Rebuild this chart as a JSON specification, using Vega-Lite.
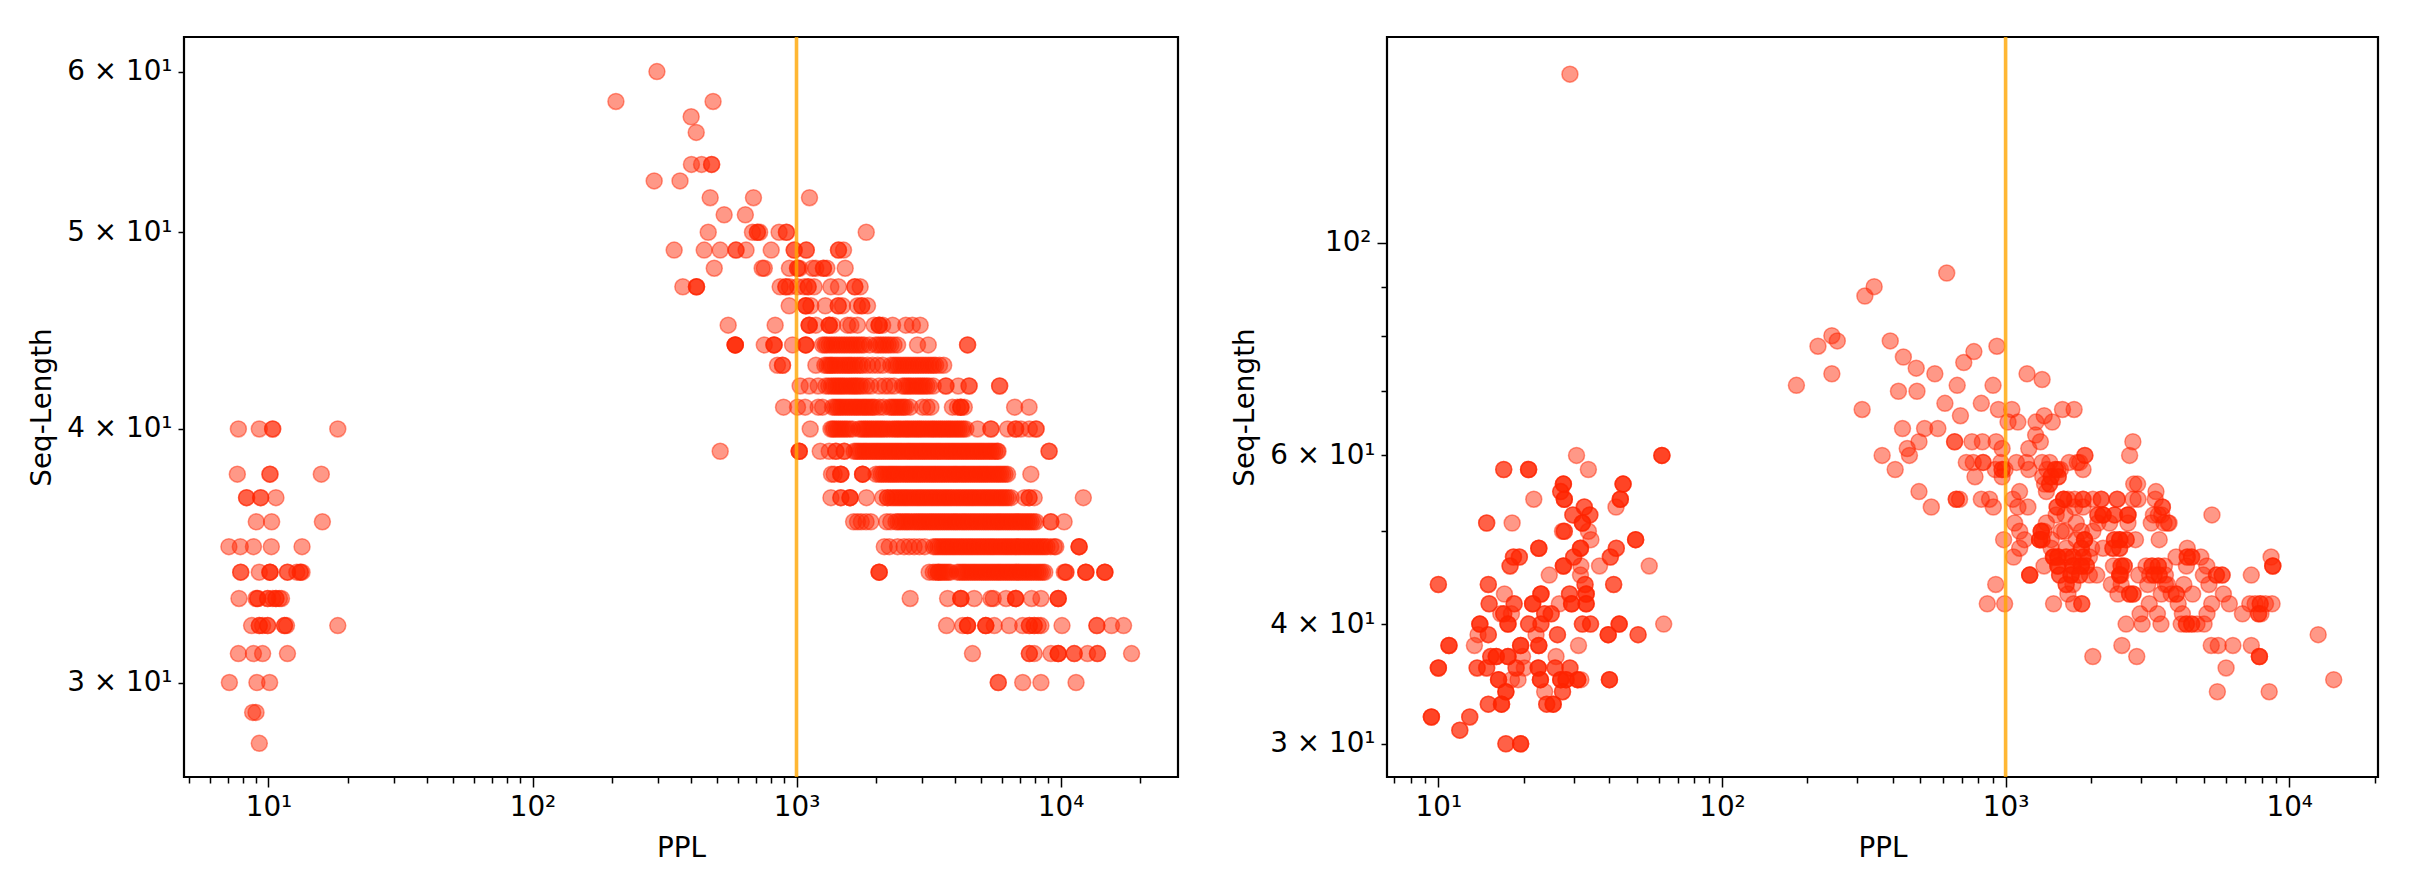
{
"$schema":"https://vega.github.io/schema/vega-lite/v6.json",
"padding":{"left":27,"top":34,"right":0,"bottom":0},
"background":"white",
"spacing":50,
"config":{"view":{"stroke":"black","strokeWidth":2.2},"font":"DejaVu Sans",
"axis":{"grid":false,"domain":false,"labelFont":"DejaVu Sans","titleFont":"DejaVu Sans","labelFontSize":27.8,"titleFontSize":27.8,"titleFontWeight":"normal","labelColor":"black","titleColor":"black","tickColor":"black","tickWidth":1.5,"labelOverlap":false,"labelFlush":false,"labelBound":false}},
"datasets":{
"left":[
{"ppl":7.69,"len":40},{"ppl":9.23,"len":40},{"ppl":10.37,"len":40},{"ppl":10.37,"len":40},{"ppl":18.3,"len":40},
{"ppl":7.62,"len":38},{"ppl":10.13,"len":38},{"ppl":10.13,"len":38},{"ppl":15.85,"len":38},
{"ppl":8.26,"len":37},{"ppl":8.26,"len":37},{"ppl":9.34,"len":37},{"ppl":9.34,"len":37},{"ppl":10.67,"len":37},
{"ppl":8.99,"len":36},{"ppl":10.28,"len":36},{"ppl":16.0,"len":36},
{"ppl":7.08,"len":35},{"ppl":7.82,"len":35},{"ppl":8.77,"len":35},{"ppl":10.25,"len":35},{"ppl":13.4,"len":35},
{"ppl":7.85,"len":34},{"ppl":7.85,"len":34},{"ppl":9.23,"len":34},{"ppl":10.13,"len":34},{"ppl":10.13,"len":34},{"ppl":10.13,"len":34},{"ppl":11.8,"len":34},{"ppl":11.8,"len":34},{"ppl":12.8,"len":34},{"ppl":13.2,"len":34},{"ppl":13.2,"len":34},{"ppl":13.4,"len":34},
{"ppl":7.73,"len":33},{"ppl":8.97,"len":33},{"ppl":9.1,"len":33},{"ppl":9.1,"len":33},{"ppl":9.93,"len":33},{"ppl":9.93,"len":33},{"ppl":10.37,"len":33},{"ppl":10.67,"len":33},{"ppl":10.67,"len":33},{"ppl":11.0,"len":33},{"ppl":11.2,"len":33},
{"ppl":8.63,"len":32},{"ppl":9.23,"len":32},{"ppl":9.23,"len":32},{"ppl":9.5,"len":32},{"ppl":9.93,"len":32},{"ppl":9.93,"len":32},{"ppl":11.5,"len":32},{"ppl":11.5,"len":32},{"ppl":11.7,"len":32},{"ppl":18.3,"len":32},
{"ppl":7.69,"len":31},{"ppl":8.77,"len":31},{"ppl":9.5,"len":31},{"ppl":11.8,"len":31},
{"ppl":7.11,"len":30},{"ppl":9.04,"len":30},{"ppl":10.1,"len":30},
{"ppl":8.71,"len":29},{"ppl":8.97,"len":29},{"ppl":9.23,"len":28},
{"ppl":296,"len":60},{"ppl":207,"len":58},{"ppl":483,"len":58},{"ppl":399,"len":57},{"ppl":417,"len":56},
{"ppl":400,"len":54},{"ppl":437,"len":54},{"ppl":477,"len":54},{"ppl":477,"len":54},
{"ppl":289,"len":53},{"ppl":362,"len":53},{"ppl":471,"len":52},{"ppl":687,"len":52},{"ppl":1120,"len":52},{"ppl":532,"len":51},{"ppl":640,"len":51},
{"ppl":463,"len":50},{"ppl":681,"len":50},{"ppl":711,"len":50},{"ppl":711,"len":50},{"ppl":725,"len":50},{"ppl":859,"len":50},{"ppl":916,"len":50},{"ppl":916,"len":50},{"ppl":1837,"len":50},
{"ppl":344,"len":49},{"ppl":447,"len":49},{"ppl":514,"len":49},{"ppl":590,"len":49},{"ppl":590,"len":49},{"ppl":644,"len":49},{"ppl":802,"len":49},{"ppl":980,"len":49},{"ppl":980,"len":49},{"ppl":1089,"len":49},{"ppl":1089,"len":49},{"ppl":1442,"len":49},{"ppl":1442,"len":49},{"ppl":1507,"len":49},
{"ppl":488,"len":48},{"ppl":741,"len":48},{"ppl":755,"len":48},{"ppl":940,"len":48},{"ppl":1009,"len":48},{"ppl":1009,"len":48},{"ppl":1026,"len":48},{"ppl":1150,"len":48},{"ppl":1183,"len":48},{"ppl":1265,"len":48},{"ppl":1265,"len":48},{"ppl":1303,"len":48},{"ppl":1529,"len":48},
{"ppl":371,"len":47},{"ppl":418,"len":47},{"ppl":418,"len":47},{"ppl":418,"len":47},{"ppl":867,"len":47},{"ppl":911,"len":47},{"ppl":911,"len":47},{"ppl":940,"len":47},{"ppl":1009,"len":47},{"ppl":1069,"len":47},{"ppl":1107,"len":47},{"ppl":1107,"len":47},{"ppl":1166,"len":47},{"ppl":1349,"len":47},{"ppl":1442,"len":47},{"ppl":1663,"len":47},{"ppl":1663,"len":47},{"ppl":1742,"len":47},
{"ppl":938,"len":46},{"ppl":1084,"len":46},{"ppl":1084,"len":46},{"ppl":1084,"len":46},{"ppl":1133,"len":46},{"ppl":1285,"len":46},{"ppl":1439,"len":46},{"ppl":1439,"len":46},{"ppl":1493,"len":46},{"ppl":1702,"len":46},{"ppl":1767,"len":46},{"ppl":1767,"len":46},{"ppl":1858,"len":46},
{"ppl":551,"len":45},{"ppl":830,"len":45},{"ppl":1117,"len":45},{"ppl":1117,"len":45},{"ppl":1117,"len":45},{"ppl":1183,"len":45},{"ppl":1330,"len":45},{"ppl":1330,"len":45},{"ppl":1330,"len":45},{"ppl":1370,"len":45},{"ppl":1560,"len":45},{"ppl":1607,"len":45},{"ppl":1702,"len":45},{"ppl":1968,"len":45},{"ppl":2056,"len":45},{"ppl":2056,"len":45},{"ppl":2056,"len":45},{"ppl":2120,"len":45},{"ppl":2312,"len":45},{"ppl":2594,"len":45},{"ppl":2748,"len":45},{"ppl":2940,"len":45},
{"ppl":586,"len":44},{"ppl":586,"len":44},{"ppl":586,"len":44},{"ppl":586,"len":44},{"ppl":755,"len":44},{"ppl":822,"len":44},{"ppl":822,"len":44},{"ppl":822,"len":44},{"ppl":966,"len":44},{"ppl":1084,"len":44},{"ppl":1084,"len":44},{"ppl":1084,"len":44},{"ppl":1254,"len":44},{"ppl":1280,"len":44},{"ppl":1330,"len":44},{"ppl":1390,"len":44},{"ppl":1452,"len":44},{"ppl":1516,"len":44},{"ppl":1585,"len":44},{"ppl":1652,"len":44},{"ppl":1726,"len":44},{"ppl":1803,"len":44},{"ppl":1890,"len":44},{"ppl":1997,"len":44},{"ppl":2086,"len":44},{"ppl":2178,"len":44},{"ppl":2275,"len":44},{"ppl":2415,"len":44},{"ppl":2873,"len":44},{"ppl":3155,"len":44},{"ppl":4446,"len":44},{"ppl":4446,"len":44},
{"ppl":847,"len":43},{"ppl":885,"len":43},{"ppl":885,"len":43},{"ppl":1184,"len":43},{"ppl":1280,"len":43},{"ppl":1330,"len":43},{"ppl":1369,"len":43},{"ppl":1430,"len":43},{"ppl":1495,"len":43},{"ppl":1560,"len":43},{"ppl":1620,"len":43},{"ppl":1700,"len":43},{"ppl":1780,"len":43},{"ppl":1857,"len":43},{"ppl":1940,"len":43},{"ppl":2030,"len":43},{"ppl":2120,"len":43},{"ppl":2275,"len":43},{"ppl":2380,"len":43},{"ppl":2483,"len":43},{"ppl":2595,"len":43},{"ppl":2710,"len":43},{"ppl":2830,"len":43},{"ppl":2957,"len":43},{"ppl":3090,"len":43},{"ppl":3230,"len":43},{"ppl":3365,"len":43},{"ppl":3480,"len":43},{"ppl":3610,"len":43},
{"ppl":1032,"len":42},{"ppl":1117,"len":42},{"ppl":1208,"len":42},{"ppl":1292,"len":42},{"ppl":1357,"len":42},{"ppl":1410,"len":42},{"ppl":1463,"len":42},{"ppl":1516,"len":42},{"ppl":1585,"len":42},{"ppl":1645,"len":42},{"ppl":1702,"len":42},{"ppl":1780,"len":42},{"ppl":1845,"len":42},{"ppl":1912,"len":42},{"ppl":2056,"len":42},{"ppl":2160,"len":42},{"ppl":2245,"len":42},{"ppl":2343,"len":42},{"ppl":2519,"len":42},{"ppl":2620,"len":42},{"ppl":2712,"len":42},{"ppl":2830,"len":42},{"ppl":2940,"len":42},{"ppl":3050,"len":42},{"ppl":3180,"len":42},{"ppl":3295,"len":42},{"ppl":3680,"len":42},{"ppl":3680,"len":42},{"ppl":4100,"len":42},{"ppl":4505,"len":42},{"ppl":4505,"len":42},{"ppl":5880,"len":42},{"ppl":5880,"len":42},
{"ppl":893,"len":41},{"ppl":1009,"len":41},{"ppl":1078,"len":41},{"ppl":1208,"len":41},{"ppl":1255,"len":41},{"ppl":1369,"len":41},{"ppl":1421,"len":41},{"ppl":1472,"len":41},{"ppl":1530,"len":41},{"ppl":1590,"len":41},{"ppl":1653,"len":41},{"ppl":1712,"len":41},{"ppl":1780,"len":41},{"ppl":1840,"len":41},{"ppl":1912,"len":41},{"ppl":1980,"len":41},{"ppl":2056,"len":41},{"ppl":2135,"len":41},{"ppl":2245,"len":41},{"ppl":2330,"len":41},{"ppl":2415,"len":41},{"ppl":2505,"len":41},{"ppl":2595,"len":41},{"ppl":2695,"len":41},{"ppl":3000,"len":41},{"ppl":3120,"len":41},{"ppl":3230,"len":41},{"ppl":3895,"len":41},{"ppl":4070,"len":41},{"ppl":4192,"len":41},{"ppl":4192,"len":41},{"ppl":4192,"len":41},{"ppl":4320,"len":41},{"ppl":6700,"len":41},{"ppl":7600,"len":41},
{"ppl":1127,"len":40},{"ppl":1350,"len":40},{"ppl":1389,"len":40},{"ppl":1440,"len":40},{"ppl":1495,"len":40},{"ppl":1553,"len":40},{"ppl":1630,"len":40},{"ppl":1726,"len":40},{"ppl":1795,"len":40},{"ppl":1857,"len":40},{"ppl":1925,"len":40},{"ppl":2000,"len":40},{"ppl":2075,"len":40},{"ppl":2150,"len":40},{"ppl":2250,"len":40},{"ppl":2310,"len":40},{"ppl":2400,"len":40},{"ppl":2483,"len":40},{"ppl":2585,"len":40},{"ppl":2670,"len":40},{"ppl":2770,"len":40},{"ppl":2873,"len":40},{"ppl":2970,"len":40},{"ppl":3090,"len":40},{"ppl":3215,"len":40},{"ppl":3322,"len":40},{"ppl":3450,"len":40},{"ppl":3570,"len":40},{"ppl":3710,"len":40},{"ppl":3840,"len":40},{"ppl":3985,"len":40},{"ppl":4130,"len":40},{"ppl":4290,"len":40},{"ppl":4380,"len":40},{"ppl":4850,"len":40},{"ppl":5450,"len":40},{"ppl":5450,"len":40},{"ppl":6300,"len":40},{"ppl":6760,"len":40},{"ppl":6760,"len":40},{"ppl":7080,"len":40},{"ppl":7620,"len":40},{"ppl":8080,"len":40},{"ppl":8080,"len":40},
{"ppl":514,"len":39},{"ppl":1024,"len":39},{"ppl":1024,"len":39},{"ppl":1024,"len":39},{"ppl":1230,"len":39},{"ppl":1330,"len":39},{"ppl":1410,"len":39},{"ppl":1410,"len":39},{"ppl":1516,"len":39},{"ppl":1516,"len":39},{"ppl":1653,"len":39},{"ppl":1717,"len":39},{"ppl":1785,"len":39},{"ppl":1850,"len":39},{"ppl":1925,"len":39},{"ppl":2000,"len":39},{"ppl":2075,"len":39},{"ppl":2155,"len":39},{"ppl":2240,"len":39},{"ppl":2325,"len":39},{"ppl":2415,"len":39},{"ppl":2505,"len":39},{"ppl":2610,"len":39},{"ppl":2705,"len":39},{"ppl":2810,"len":39},{"ppl":2920,"len":39},{"ppl":3030,"len":39},{"ppl":3145,"len":39},{"ppl":3265,"len":39},{"ppl":3395,"len":39},{"ppl":3520,"len":39},{"ppl":3665,"len":39},{"ppl":3805,"len":39},{"ppl":3950,"len":39},{"ppl":4100,"len":39},{"ppl":4260,"len":39},{"ppl":4420,"len":39},{"ppl":4590,"len":39},{"ppl":4770,"len":39},{"ppl":4950,"len":39},{"ppl":5135,"len":39},{"ppl":5340,"len":39},{"ppl":5540,"len":39},{"ppl":5760,"len":39},{"ppl":5800,"len":39},{"ppl":9050,"len":39},{"ppl":9050,"len":39},
{"ppl":1357,"len":38},{"ppl":1389,"len":38},{"ppl":1472,"len":38},{"ppl":1472,"len":38},{"ppl":1472,"len":38},{"ppl":1780,"len":38},{"ppl":1780,"len":38},{"ppl":1780,"len":38},{"ppl":2000,"len":38},{"ppl":2056,"len":38},{"ppl":2135,"len":38},{"ppl":2225,"len":38},{"ppl":2305,"len":38},{"ppl":2390,"len":38},{"ppl":2483,"len":38},{"ppl":2585,"len":38},{"ppl":2680,"len":38},{"ppl":2785,"len":38},{"ppl":2890,"len":38},{"ppl":3000,"len":38},{"ppl":3120,"len":38},{"ppl":3240,"len":38},{"ppl":3360,"len":38},{"ppl":3490,"len":38},{"ppl":3625,"len":38},{"ppl":3770,"len":38},{"ppl":3920,"len":38},{"ppl":4060,"len":38},{"ppl":4225,"len":38},{"ppl":4380,"len":38},{"ppl":4555,"len":38},{"ppl":4730,"len":38},{"ppl":4915,"len":38},{"ppl":5100,"len":38},{"ppl":5290,"len":38},{"ppl":5500,"len":38},{"ppl":5720,"len":38},{"ppl":5935,"len":38},{"ppl":6170,"len":38},{"ppl":6300,"len":38},{"ppl":7720,"len":38},
{"ppl":1350,"len":37},{"ppl":1472,"len":37},{"ppl":1472,"len":37},{"ppl":1595,"len":37},{"ppl":1595,"len":37},{"ppl":1595,"len":37},{"ppl":1840,"len":37},{"ppl":2120,"len":37},{"ppl":2211,"len":37},{"ppl":2211,"len":37},{"ppl":2275,"len":37},{"ppl":2365,"len":37},{"ppl":2455,"len":37},{"ppl":2550,"len":37},{"ppl":2645,"len":37},{"ppl":2750,"len":37},{"ppl":2860,"len":37},{"ppl":2965,"len":37},{"ppl":3080,"len":37},{"ppl":3200,"len":37},{"ppl":3322,"len":37},{"ppl":3450,"len":37},{"ppl":3585,"len":37},{"ppl":3720,"len":37},{"ppl":3860,"len":37},{"ppl":4020,"len":37},{"ppl":4175,"len":37},{"ppl":4340,"len":37},{"ppl":4505,"len":37},{"ppl":4675,"len":37},{"ppl":4860,"len":37},{"ppl":5050,"len":37},{"ppl":5245,"len":37},{"ppl":5445,"len":37},{"ppl":5655,"len":37},{"ppl":5880,"len":37},{"ppl":6100,"len":37},{"ppl":6340,"len":37},{"ppl":6500,"len":37},{"ppl":7300,"len":37},{"ppl":7600,"len":37},{"ppl":7600,"len":37},{"ppl":7950,"len":37},{"ppl":12200,"len":37},
{"ppl":1645,"len":36},{"ppl":1702,"len":36},{"ppl":1760,"len":36},{"ppl":1835,"len":36},{"ppl":1912,"len":36},{"ppl":2195,"len":36},{"ppl":2275,"len":36},{"ppl":2380,"len":36},{"ppl":2470,"len":36},{"ppl":2575,"len":36},{"ppl":2670,"len":36},{"ppl":2790,"len":36},{"ppl":2900,"len":36},{"ppl":3010,"len":36},{"ppl":3130,"len":36},{"ppl":3250,"len":36},{"ppl":3375,"len":36},{"ppl":3505,"len":36},{"ppl":3640,"len":36},{"ppl":3780,"len":36},{"ppl":3930,"len":36},{"ppl":4070,"len":36},{"ppl":4235,"len":36},{"ppl":4390,"len":36},{"ppl":4565,"len":36},{"ppl":4740,"len":36},{"ppl":4925,"len":36},{"ppl":5120,"len":36},{"ppl":5315,"len":36},{"ppl":5525,"len":36},{"ppl":5740,"len":36},{"ppl":5945,"len":36},{"ppl":6180,"len":36},{"ppl":6410,"len":36},{"ppl":6660,"len":36},{"ppl":6920,"len":36},{"ppl":7190,"len":36},{"ppl":7470,"len":36},{"ppl":7750,"len":36},{"ppl":8080,"len":36},{"ppl":9190,"len":36},{"ppl":9190,"len":36},{"ppl":10320,"len":36},
{"ppl":2150,"len":35},{"ppl":2245,"len":35},{"ppl":2415,"len":35},{"ppl":2555,"len":35},{"ppl":2670,"len":35},{"ppl":2790,"len":35},{"ppl":2920,"len":35},{"ppl":3060,"len":35},{"ppl":3300,"len":35},{"ppl":3430,"len":35},{"ppl":3565,"len":35},{"ppl":3700,"len":35},{"ppl":3840,"len":35},{"ppl":3985,"len":35},{"ppl":4140,"len":35},{"ppl":4300,"len":35},{"ppl":4470,"len":35},{"ppl":4640,"len":35},{"ppl":4825,"len":35},{"ppl":5010,"len":35},{"ppl":5210,"len":35},{"ppl":5415,"len":35},{"ppl":5610,"len":35},{"ppl":5840,"len":35},{"ppl":6070,"len":35},{"ppl":6300,"len":35},{"ppl":6540,"len":35},{"ppl":6800,"len":35},{"ppl":7060,"len":35},{"ppl":7340,"len":35},{"ppl":7620,"len":35},{"ppl":7920,"len":35},{"ppl":8230,"len":35},{"ppl":8550,"len":35},{"ppl":8890,"len":35},{"ppl":9470,"len":35},{"ppl":9600,"len":35},{"ppl":11760,"len":35},{"ppl":11760,"len":35},{"ppl":11760,"len":35},
{"ppl":2056,"len":34},{"ppl":2056,"len":34},{"ppl":2056,"len":34},{"ppl":3180,"len":34},{"ppl":3295,"len":34},{"ppl":3445,"len":34},{"ppl":3445,"len":34},{"ppl":3565,"len":34},{"ppl":3690,"len":34},{"ppl":3825,"len":34},{"ppl":4070,"len":34},{"ppl":4235,"len":34},{"ppl":4390,"len":34},{"ppl":4565,"len":34},{"ppl":4740,"len":34},{"ppl":4925,"len":34},{"ppl":5120,"len":34},{"ppl":5315,"len":34},{"ppl":5525,"len":34},{"ppl":5740,"len":34},{"ppl":5945,"len":34},{"ppl":6180,"len":34},{"ppl":6410,"len":34},{"ppl":6660,"len":34},{"ppl":6920,"len":34},{"ppl":7190,"len":34},{"ppl":7470,"len":34},{"ppl":7750,"len":34},{"ppl":8080,"len":34},{"ppl":8390,"len":34},{"ppl":8720,"len":34},{"ppl":10330,"len":34},{"ppl":10480,"len":34},{"ppl":10480,"len":34},{"ppl":12470,"len":34},{"ppl":12470,"len":34},{"ppl":12470,"len":34},{"ppl":14720,"len":34},{"ppl":14720,"len":34},{"ppl":14720,"len":34},
{"ppl":2695,"len":33},{"ppl":3735,"len":33},{"ppl":4192,"len":33},{"ppl":4192,"len":33},{"ppl":4192,"len":33},{"ppl":4710,"len":33},{"ppl":5450,"len":33},{"ppl":5560,"len":33},{"ppl":6220,"len":33},{"ppl":6760,"len":33},{"ppl":6760,"len":33},{"ppl":6760,"len":33},{"ppl":7770,"len":33},{"ppl":8430,"len":33},{"ppl":9800,"len":33},{"ppl":9800,"len":33},{"ppl":9800,"len":33},
{"ppl":3700,"len":32},{"ppl":4260,"len":32},{"ppl":4445,"len":32},{"ppl":4445,"len":32},{"ppl":4445,"len":32},{"ppl":5210,"len":32},{"ppl":5210,"len":32},{"ppl":5210,"len":32},{"ppl":5610,"len":32},{"ppl":6390,"len":32},{"ppl":7190,"len":32},{"ppl":7620,"len":32},{"ppl":7620,"len":32},{"ppl":7950,"len":32},{"ppl":7950,"len":32},{"ppl":8230,"len":32},{"ppl":8430,"len":32},{"ppl":10130,"len":32},{"ppl":13730,"len":32},{"ppl":13730,"len":32},{"ppl":15600,"len":32},{"ppl":17330,"len":32},
{"ppl":4640,"len":31},{"ppl":7620,"len":31},{"ppl":7620,"len":31},{"ppl":7950,"len":31},{"ppl":9200,"len":31},{"ppl":9800,"len":31},{"ppl":9800,"len":31},{"ppl":9800,"len":31},{"ppl":11270,"len":31},{"ppl":11270,"len":31},{"ppl":12660,"len":31},{"ppl":13800,"len":31},{"ppl":13800,"len":31},{"ppl":18580,"len":31},
{"ppl":5810,"len":30},{"ppl":5810,"len":30},{"ppl":7190,"len":30},{"ppl":8430,"len":30},{"ppl":11450,"len":30},
{"ppl":1300,"len":44},{"ppl":1360,"len":44},{"ppl":1420,"len":44},{"ppl":1485,"len":44},{"ppl":1550,"len":44},{"ppl":1620,"len":44},{"ppl":1690,"len":44},{"ppl":1765,"len":44},{"ppl":2040,"len":44},{"ppl":2130,"len":44},{"ppl":2225,"len":44},{"ppl":2340,"len":44},
{"ppl":1305,"len":43},{"ppl":1350,"len":43},{"ppl":1400,"len":43},{"ppl":1462,"len":43},{"ppl":1527,"len":43},{"ppl":1590,"len":43},{"ppl":1660,"len":43},{"ppl":1740,"len":43},{"ppl":2330,"len":43},{"ppl":2430,"len":43},{"ppl":2540,"len":43},{"ppl":2650,"len":43},{"ppl":2770,"len":43},{"ppl":2890,"len":43},{"ppl":3020,"len":43},{"ppl":3160,"len":43},{"ppl":3300,"len":43},
{"ppl":1325,"len":42},{"ppl":1384,"len":42},{"ppl":1437,"len":42},{"ppl":1490,"len":42},{"ppl":1550,"len":42},{"ppl":1615,"len":42},{"ppl":1675,"len":42},{"ppl":1740,"len":42},{"ppl":2565,"len":42},{"ppl":2665,"len":42},{"ppl":2770,"len":42},{"ppl":2885,"len":42},{"ppl":2995,"len":42},{"ppl":3115,"len":42},
{"ppl":1395,"len":41},{"ppl":1447,"len":41},{"ppl":1500,"len":41},{"ppl":1560,"len":41},{"ppl":1620,"len":41},{"ppl":1682,"len":41},{"ppl":1745,"len":41},{"ppl":1810,"len":41},{"ppl":1875,"len":41},{"ppl":1945,"len":41},{"ppl":2290,"len":41},{"ppl":2370,"len":41},{"ppl":2460,"len":41},{"ppl":2550,"len":41},
{"ppl":1370,"len":40},{"ppl":1415,"len":40},{"ppl":1467,"len":40},{"ppl":1525,"len":40},{"ppl":1590,"len":40},{"ppl":1760,"len":40},{"ppl":1825,"len":40},{"ppl":1890,"len":40},{"ppl":1960,"len":40},{"ppl":2035,"len":40},{"ppl":2110,"len":40},{"ppl":2200,"len":40},{"ppl":2355,"len":40},{"ppl":2440,"len":40},{"ppl":2535,"len":40},{"ppl":2625,"len":40},{"ppl":2720,"len":40},{"ppl":2820,"len":40},{"ppl":2920,"len":40},{"ppl":3030,"len":40},{"ppl":3150,"len":40},{"ppl":3270,"len":40},{"ppl":3385,"len":40},{"ppl":3510,"len":40},{"ppl":3640,"len":40},{"ppl":3775,"len":40},{"ppl":3910,"len":40},{"ppl":4060,"len":40},{"ppl":4210,"len":40},
{"ppl":1685,"len":39},{"ppl":1750,"len":39},{"ppl":1818,"len":39},{"ppl":1888,"len":39},{"ppl":1962,"len":39},{"ppl":2037,"len":39},{"ppl":2115,"len":39},{"ppl":2198,"len":39},{"ppl":2282,"len":39},{"ppl":2370,"len":39},{"ppl":2460,"len":39},{"ppl":2557,"len":39},{"ppl":2657,"len":39},{"ppl":2757,"len":39},{"ppl":2865,"len":39},{"ppl":2975,"len":39},{"ppl":3087,"len":39},{"ppl":3205,"len":39},{"ppl":3330,"len":39},{"ppl":3457,"len":39},{"ppl":3592,"len":39},{"ppl":3735,"len":39},{"ppl":3877,"len":39},{"ppl":4025,"len":39},{"ppl":4180,"len":39},{"ppl":4340,"len":39},{"ppl":4505,"len":39},{"ppl":4680,"len":39},{"ppl":4860,"len":39},{"ppl":5040,"len":39},{"ppl":5237,"len":39},{"ppl":5440,"len":39},{"ppl":5650,"len":39},
{"ppl":2095,"len":38},{"ppl":2180,"len":38},{"ppl":2265,"len":38},{"ppl":2347,"len":38},{"ppl":2436,"len":38},{"ppl":2534,"len":38},{"ppl":2632,"len":38},{"ppl":2732,"len":38},{"ppl":2837,"len":38},{"ppl":2945,"len":38},{"ppl":3060,"len":38},{"ppl":3180,"len":38},{"ppl":3300,"len":38},{"ppl":3425,"len":38},{"ppl":3557,"len":38},{"ppl":3697,"len":38},{"ppl":3845,"len":38},{"ppl":3990,"len":38},{"ppl":4142,"len":38},{"ppl":4302,"len":38},{"ppl":4467,"len":38},{"ppl":4642,"len":38},{"ppl":4822,"len":38},{"ppl":5007,"len":38},{"ppl":5195,"len":38},{"ppl":5395,"len":38},{"ppl":5610,"len":38},{"ppl":5827,"len":38},{"ppl":6052,"len":38},
{"ppl":2320,"len":37},{"ppl":2410,"len":37},{"ppl":2502,"len":37},{"ppl":2597,"len":37},{"ppl":2697,"len":37},{"ppl":2805,"len":37},{"ppl":2912,"len":37},{"ppl":3022,"len":37},{"ppl":3140,"len":37},{"ppl":3260,"len":37},{"ppl":3386,"len":37},{"ppl":3517,"len":37},{"ppl":3652,"len":37},{"ppl":3790,"len":37},{"ppl":3940,"len":37},{"ppl":4097,"len":37},{"ppl":4257,"len":37},{"ppl":4422,"len":37},{"ppl":4590,"len":37},{"ppl":4767,"len":37},{"ppl":4955,"len":37},{"ppl":5147,"len":37},{"ppl":5345,"len":37},{"ppl":5550,"len":37},{"ppl":5767,"len":37},{"ppl":5990,"len":37},{"ppl":6220,"len":37},
{"ppl":2422,"len":36},{"ppl":2522,"len":36},{"ppl":2622,"len":36},{"ppl":2730,"len":36},{"ppl":2845,"len":36},{"ppl":2955,"len":36},{"ppl":3070,"len":36},{"ppl":3190,"len":36},{"ppl":3312,"len":36},{"ppl":3440,"len":36},{"ppl":3572,"len":36},{"ppl":3710,"len":36},{"ppl":3855,"len":36},{"ppl":4000,"len":36},{"ppl":4152,"len":36},{"ppl":4312,"len":36},{"ppl":4477,"len":36},{"ppl":4652,"len":36},{"ppl":4832,"len":36},{"ppl":5022,"len":36},{"ppl":5217,"len":36},{"ppl":5420,"len":36},{"ppl":5632,"len":36},{"ppl":5842,"len":36},{"ppl":6062,"len":36},{"ppl":6295,"len":36},{"ppl":6535,"len":36},{"ppl":6790,"len":36},{"ppl":7055,"len":36},{"ppl":7330,"len":36},{"ppl":7610,"len":36},{"ppl":7915,"len":36},
{"ppl":3365,"len":35},{"ppl":3497,"len":35},{"ppl":3632,"len":35},{"ppl":3770,"len":35},{"ppl":3912,"len":35},{"ppl":4062,"len":35},{"ppl":4220,"len":35},{"ppl":4385,"len":35},{"ppl":4555,"len":35},{"ppl":4732,"len":35},{"ppl":4917,"len":35},{"ppl":5110,"len":35},{"ppl":5312,"len":35},{"ppl":5512,"len":35},{"ppl":5725,"len":35},{"ppl":5955,"len":35},{"ppl":6185,"len":35},{"ppl":6420,"len":35},{"ppl":6670,"len":35},{"ppl":6930,"len":35},{"ppl":7200,"len":35},{"ppl":7480,"len":35},{"ppl":7770,"len":35},{"ppl":8075,"len":35},{"ppl":8390,"len":35},{"ppl":8720,"len":35},{"ppl":9180,"len":35},
{"ppl":3370,"len":34},{"ppl":3505,"len":34},{"ppl":3627,"len":34},{"ppl":3757,"len":34},{"ppl":4152,"len":34},{"ppl":4312,"len":34},{"ppl":4477,"len":34},{"ppl":4652,"len":34},{"ppl":4832,"len":34},{"ppl":5022,"len":34},{"ppl":5217,"len":34},{"ppl":5420,"len":34},{"ppl":5632,"len":34},{"ppl":5842,"len":34},{"ppl":6062,"len":34},{"ppl":6295,"len":34},{"ppl":6535,"len":34},{"ppl":6790,"len":34},{"ppl":7055,"len":34},{"ppl":7330,"len":34},{"ppl":7610,"len":34},{"ppl":7915,"len":34},{"ppl":8235,"len":34},{"ppl":8555,"len":34}
],
"right":[
{"ppl":29.1,"len":150},{"ppl":620,"len":93},{"ppl":344,"len":90},{"ppl":319,"len":88},{"ppl":244,"len":80},{"ppl":255,"len":79},{"ppl":392,"len":79},{"ppl":218,"len":78},{"ppl":932,"len":78},{"ppl":773,"len":77},{"ppl":436,"len":76},{"ppl":712,"len":75},{"ppl":484,"len":74},{"ppl":244,"len":73},{"ppl":563,"len":73},{"ppl":1190,"len":73},{"ppl":1345,"len":72},{"ppl":183,"len":71},{"ppl":675,"len":71},{"ppl":903,"len":71},{"ppl":419,"len":70},{"ppl":487,"len":70},{"ppl":611,"len":68},{"ppl":821,"len":68},{"ppl":312,"len":67},{"ppl":943,"len":67},{"ppl":1052,"len":67},{"ppl":1587,"len":67},{"ppl":1744,"len":67},{"ppl":693,"len":66},{"ppl":1368,"len":66},{"ppl":1020,"len":65},{"ppl":1105,"len":65},{"ppl":1280,"len":65},{"ppl":1461,"len":65},{"ppl":433,"len":64},{"ppl":518,"len":64},{"ppl":577,"len":64},{"ppl":1276,"len":63},
{"ppl":495,"len":62},{"ppl":661,"len":62},{"ppl":661,"len":62},{"ppl":761,"len":62},{"ppl":828,"len":62},{"ppl":926,"len":62},{"ppl":1326,"len":62},{"ppl":2810,"len":62},{"ppl":450,"len":61},{"ppl":972,"len":61},{"ppl":1207,"len":61},{"ppl":367,"len":60},{"ppl":458,"len":60},{"ppl":1903,"len":60},{"ppl":1903,"len":60},{"ppl":2737,"len":60},
{"ppl":727,"len":59},{"ppl":769,"len":59},{"ppl":833,"len":59},{"ppl":833,"len":59},{"ppl":962,"len":59},{"ppl":1092,"len":59},{"ppl":1183,"len":59},{"ppl":1345,"len":59},{"ppl":1431,"len":59},{"ppl":1675,"len":59},{"ppl":1790,"len":59},{"ppl":1825,"len":59},
{"ppl":408,"len":58},{"ppl":920,"len":58},{"ppl":972,"len":58},{"ppl":972,"len":58},{"ppl":995,"len":58},{"ppl":1207,"len":58},{"ppl":1400,"len":58},{"ppl":1497,"len":58},{"ppl":1497,"len":58},{"ppl":1529,"len":58},{"ppl":1560,"len":58},{"ppl":1875,"len":58},
{"ppl":780,"len":57},{"ppl":972,"len":57},{"ppl":1352,"len":57},{"ppl":1448,"len":57},{"ppl":1448,"len":57},{"ppl":1533,"len":57},{"ppl":1533,"len":57},{"ppl":1372,"len":56},{"ppl":1429,"len":56},{"ppl":1429,"len":56},{"ppl":2830,"len":56},{"ppl":2920,"len":56},{"ppl":495,"len":55},{"ppl":1120,"len":55},{"ppl":1393,"len":55},{"ppl":3390,"len":55},
{"ppl":670,"len":54},{"ppl":670,"len":54},{"ppl":688,"len":54},{"ppl":821,"len":54},{"ppl":878,"len":54},{"ppl":1061,"len":54},{"ppl":1602,"len":54},{"ppl":1602,"len":54},{"ppl":1602,"len":54},{"ppl":1658,"len":54},{"ppl":1750,"len":54},{"ppl":1875,"len":54},{"ppl":1875,"len":54},{"ppl":2030,"len":54},{"ppl":2174,"len":54},{"ppl":2174,"len":54},{"ppl":2474,"len":54},{"ppl":2474,"len":54},{"ppl":2814,"len":54},{"ppl":2930,"len":54},{"ppl":3370,"len":54},
{"ppl":547,"len":53},{"ppl":905,"len":53},{"ppl":1105,"len":53},{"ppl":1198,"len":53},{"ppl":1520,"len":53},{"ppl":1520,"len":53},{"ppl":1750,"len":53},{"ppl":1875,"len":53},{"ppl":3570,"len":53},{"ppl":3570,"len":53},
{"ppl":1508,"len":52},{"ppl":1620,"len":52},{"ppl":2115,"len":52},{"ppl":2115,"len":52},{"ppl":2206,"len":52},{"ppl":2206,"len":52},{"ppl":2206,"len":52},{"ppl":2421,"len":52},{"ppl":2421,"len":52},{"ppl":2700,"len":52},{"ppl":2700,"len":52},{"ppl":2700,"len":52},{"ppl":3320,"len":52},{"ppl":3455,"len":52},{"ppl":3552,"len":52},{"ppl":5340,"len":52},
{"ppl":1076,"len":51},{"ppl":1393,"len":51},{"ppl":1775,"len":51},{"ppl":2115,"len":51},{"ppl":2327,"len":51},{"ppl":2700,"len":51},{"ppl":3263,"len":51},{"ppl":3620,"len":51},{"ppl":3737,"len":51},{"ppl":3770,"len":51},
{"ppl":1121,"len":50},{"ppl":1336,"len":50},{"ppl":1336,"len":50},{"ppl":1336,"len":50},{"ppl":1365,"len":50},{"ppl":1570,"len":50},{"ppl":1617,"len":50},{"ppl":1850,"len":50},{"ppl":2030,"len":50},
{"ppl":984,"len":49},{"ppl":1166,"len":49},{"ppl":1318,"len":49},{"ppl":1318,"len":49},{"ppl":1318,"len":49},{"ppl":1345,"len":49},{"ppl":1345,"len":49},{"ppl":1448,"len":49},{"ppl":1775,"len":49},{"ppl":1898,"len":49},{"ppl":1898,"len":49},{"ppl":1898,"len":49},{"ppl":2420,"len":49},{"ppl":2420,"len":49},{"ppl":2525,"len":49},{"ppl":2525,"len":49},{"ppl":2525,"len":49},{"ppl":2662,"len":49},{"ppl":2662,"len":49},{"ppl":2870,"len":49},{"ppl":3480,"len":49},
{"ppl":1121,"len":48},{"ppl":1448,"len":48},{"ppl":1635,"len":48},{"ppl":1850,"len":48},{"ppl":1850,"len":48},{"ppl":2010,"len":48},{"ppl":2206,"len":48},{"ppl":2390,"len":48},{"ppl":2390,"len":48},{"ppl":2525,"len":48},{"ppl":2525,"len":48},{"ppl":4370,"len":48},
{"ppl":1067,"len":47},{"ppl":1475,"len":47},{"ppl":1475,"len":47},{"ppl":1475,"len":47},{"ppl":1529,"len":47},{"ppl":1529,"len":47},{"ppl":1529,"len":47},{"ppl":1635,"len":47},{"ppl":1635,"len":47},{"ppl":1727,"len":47},{"ppl":1727,"len":47},{"ppl":1875,"len":47},{"ppl":1875,"len":47},{"ppl":1975,"len":47},{"ppl":3990,"len":47},{"ppl":4370,"len":47},{"ppl":4370,"len":47},{"ppl":4530,"len":47},{"ppl":4530,"len":47},{"ppl":4880,"len":47},{"ppl":8630,"len":47},
{"ppl":1366,"len":46},{"ppl":1529,"len":46},{"ppl":1529,"len":46},{"ppl":1529,"len":46},{"ppl":1727,"len":46},{"ppl":1727,"len":46},{"ppl":1727,"len":46},{"ppl":1850,"len":46},{"ppl":1850,"len":46},{"ppl":1850,"len":46},{"ppl":1926,"len":46},{"ppl":1926,"len":46},{"ppl":2400,"len":46},{"ppl":2555,"len":46},{"ppl":2555,"len":46},{"ppl":2620,"len":46},{"ppl":2620,"len":46},{"ppl":3130,"len":46},{"ppl":3283,"len":46},{"ppl":3283,"len":46},{"ppl":3455,"len":46},{"ppl":3455,"len":46},{"ppl":3630,"len":46},{"ppl":4340,"len":46},{"ppl":5120,"len":46},{"ppl":8750,"len":46},{"ppl":8750,"len":46},{"ppl":8750,"len":46},
{"ppl":1216,"len":45},{"ppl":1216,"len":45},{"ppl":1216,"len":45},{"ppl":1550,"len":45},{"ppl":1550,"len":45},{"ppl":1702,"len":45},{"ppl":1702,"len":45},{"ppl":1702,"len":45},{"ppl":1825,"len":45},{"ppl":1825,"len":45},{"ppl":1975,"len":45},{"ppl":2096,"len":45},{"ppl":2525,"len":45},{"ppl":2525,"len":45},{"ppl":2525,"len":45},{"ppl":2555,"len":45},{"ppl":2945,"len":45},{"ppl":3220,"len":45},{"ppl":3340,"len":45},{"ppl":3340,"len":45},{"ppl":3480,"len":45},{"ppl":3480,"len":45},{"ppl":3660,"len":45},{"ppl":4980,"len":45},{"ppl":5540,"len":45},{"ppl":5540,"len":45},{"ppl":5800,"len":45},{"ppl":5800,"len":45},{"ppl":7350,"len":45},
{"ppl":923,"len":44},{"ppl":1635,"len":44},{"ppl":1635,"len":44},{"ppl":1727,"len":44},{"ppl":2360,"len":44},{"ppl":2555,"len":44},{"ppl":3170,"len":44},{"ppl":3660,"len":44},{"ppl":3720,"len":44},{"ppl":4250,"len":44},{"ppl":5210,"len":44},
{"ppl":1658,"len":43},{"ppl":2489,"len":43},{"ppl":2736,"len":43},{"ppl":2736,"len":43},{"ppl":2814,"len":43},{"ppl":2814,"len":43},{"ppl":3540,"len":43},{"ppl":3835,"len":43},{"ppl":4000,"len":43},{"ppl":4000,"len":43},{"ppl":4565,"len":43},{"ppl":5860,"len":43},
{"ppl":862,"len":42},{"ppl":992,"len":42},{"ppl":1476,"len":42},{"ppl":1737,"len":42},{"ppl":1856,"len":42},{"ppl":1856,"len":42},{"ppl":3210,"len":42},{"ppl":4060,"len":42},{"ppl":5330,"len":42},{"ppl":6150,"len":42},{"ppl":7260,"len":42},{"ppl":7580,"len":42},{"ppl":7900,"len":42},{"ppl":7900,"len":42},{"ppl":8250,"len":42},{"ppl":8700,"len":42},
{"ppl":2980,"len":41},{"ppl":3430,"len":41},{"ppl":4200,"len":41},{"ppl":5130,"len":41},{"ppl":6840,"len":41},{"ppl":7800,"len":41},{"ppl":7800,"len":41},{"ppl":7950,"len":41},
{"ppl":2660,"len":40},{"ppl":3030,"len":40},{"ppl":3530,"len":40},{"ppl":4160,"len":40},{"ppl":4340,"len":40},{"ppl":4340,"len":40},{"ppl":4530,"len":40},{"ppl":4530,"len":40},{"ppl":4730,"len":40},{"ppl":5010,"len":40},
{"ppl":12650,"len":39},{"ppl":2570,"len":38},{"ppl":5310,"len":38},{"ppl":5620,"len":38},{"ppl":6330,"len":38},{"ppl":7350,"len":38},{"ppl":2030,"len":37},{"ppl":2900,"len":37},{"ppl":7850,"len":37},{"ppl":7850,"len":37},{"ppl":7850,"len":37},{"ppl":5990,"len":36},{"ppl":14350,"len":35},{"ppl":5580,"len":34},{"ppl":8500,"len":34},
{"ppl":30.7,"len":60},{"ppl":61.4,"len":60},{"ppl":61.4,"len":60},{"ppl":61.4,"len":60},
{"ppl":17,"len":58},{"ppl":17,"len":58},{"ppl":20.8,"len":58},{"ppl":20.8,"len":58},{"ppl":20.8,"len":58},{"ppl":33.8,"len":58},
{"ppl":27.6,"len":56},{"ppl":27.6,"len":56},{"ppl":27.6,"len":56},{"ppl":44.8,"len":56},{"ppl":44.8,"len":56},{"ppl":44.8,"len":56},{"ppl":27,"len":55},{"ppl":27,"len":55},
{"ppl":21.7,"len":54},{"ppl":27.8,"len":54},{"ppl":27.8,"len":54},{"ppl":27.8,"len":54},{"ppl":43.8,"len":54},{"ppl":43.8,"len":54},{"ppl":43.8,"len":54},
{"ppl":42.3,"len":53},{"ppl":32.7,"len":53},{"ppl":32.7,"len":53},{"ppl":29.8,"len":52},{"ppl":29.8,"len":52},{"ppl":34.2,"len":52},{"ppl":34.2,"len":52},
{"ppl":32.2,"len":51},{"ppl":32.2,"len":51},{"ppl":32.2,"len":51},{"ppl":14.8,"len":51},{"ppl":14.8,"len":51},{"ppl":18.2,"len":51},
{"ppl":27.8,"len":50},{"ppl":27.8,"len":50},{"ppl":27.4,"len":50},{"ppl":33.8,"len":50},{"ppl":34.5,"len":49},{"ppl":49.6,"len":49},{"ppl":49.6,"len":49},{"ppl":49.6,"len":49},
{"ppl":22.6,"len":48},{"ppl":22.6,"len":48},{"ppl":22.6,"len":48},{"ppl":31.7,"len":48},{"ppl":31.7,"len":48},{"ppl":31.7,"len":48},{"ppl":42.4,"len":48},{"ppl":42.4,"len":48},
{"ppl":18.4,"len":47},{"ppl":18.4,"len":47},{"ppl":19.3,"len":47},{"ppl":19.3,"len":47},{"ppl":30,"len":47},{"ppl":30,"len":47},{"ppl":40.4,"len":47},{"ppl":40.4,"len":47},
{"ppl":17.9,"len":46},{"ppl":17.9,"len":46},{"ppl":27.6,"len":46},{"ppl":27.6,"len":46},{"ppl":27.6,"len":46},{"ppl":31.8,"len":46},{"ppl":37,"len":46},{"ppl":55.4,"len":46},{"ppl":24.6,"len":45},{"ppl":31.7,"len":45},
{"ppl":10,"len":44},{"ppl":10,"len":44},{"ppl":15,"len":44},{"ppl":15,"len":44},{"ppl":32.9,"len":44},{"ppl":32.9,"len":44},{"ppl":41.5,"len":44},{"ppl":41.5,"len":44},
{"ppl":17.1,"len":43},{"ppl":23,"len":43},{"ppl":23,"len":43},{"ppl":23,"len":43},{"ppl":29,"len":43},{"ppl":29,"len":43},{"ppl":33.2,"len":43},{"ppl":33.2,"len":43},{"ppl":33.2,"len":43},
{"ppl":15.1,"len":42},{"ppl":15.1,"len":42},{"ppl":18.5,"len":42},{"ppl":18.5,"len":42},{"ppl":21.5,"len":42},{"ppl":21.5,"len":42},{"ppl":21.5,"len":42},{"ppl":26.7,"len":42},{"ppl":29.5,"len":42},{"ppl":29.5,"len":42},{"ppl":29.5,"len":42},{"ppl":33.2,"len":42},{"ppl":33.2,"len":42},{"ppl":33.2,"len":42},
{"ppl":16.6,"len":41},{"ppl":17,"len":41},{"ppl":17,"len":41},{"ppl":18.1,"len":41},{"ppl":23.7,"len":41},{"ppl":23.7,"len":41},{"ppl":25,"len":41},{"ppl":25,"len":41},
{"ppl":14,"len":40},{"ppl":14,"len":40},{"ppl":14,"len":40},{"ppl":17.6,"len":40},{"ppl":17.6,"len":40},{"ppl":17.6,"len":40},{"ppl":20.8,"len":40},{"ppl":20.8,"len":40},{"ppl":23,"len":40},{"ppl":23,"len":40},{"ppl":32.2,"len":40},{"ppl":32.2,"len":40},{"ppl":34.4,"len":40},{"ppl":34.4,"len":40},{"ppl":43.4,"len":40},{"ppl":43.4,"len":40},{"ppl":43.4,"len":40},{"ppl":62.3,"len":40},
{"ppl":13.8,"len":39},{"ppl":15,"len":39},{"ppl":15,"len":39},{"ppl":22.1,"len":39},{"ppl":26.3,"len":39},{"ppl":26.3,"len":39},{"ppl":39.7,"len":39},{"ppl":39.7,"len":39},{"ppl":39.7,"len":39},{"ppl":50.6,"len":39},{"ppl":50.6,"len":39},
{"ppl":10.9,"len":38},{"ppl":10.9,"len":38},{"ppl":10.9,"len":38},{"ppl":13.4,"len":38},{"ppl":19.5,"len":38},{"ppl":19.5,"len":38},{"ppl":19.5,"len":38},{"ppl":22.6,"len":38},{"ppl":22.6,"len":38},{"ppl":22.6,"len":38},{"ppl":31.2,"len":38},
{"ppl":15.3,"len":37},{"ppl":15.3,"len":37},{"ppl":16,"len":37},{"ppl":16,"len":37},{"ppl":16,"len":37},{"ppl":17.6,"len":37},{"ppl":17.6,"len":37},{"ppl":17.6,"len":37},{"ppl":19.8,"len":37},{"ppl":26,"len":37},
{"ppl":10,"len":36},{"ppl":10,"len":36},{"ppl":10,"len":36},{"ppl":13.7,"len":36},{"ppl":13.7,"len":36},{"ppl":14.8,"len":36},{"ppl":14.8,"len":36},{"ppl":18.8,"len":36},{"ppl":18.8,"len":36},{"ppl":20.1,"len":36},{"ppl":22.5,"len":36},{"ppl":22.5,"len":36},{"ppl":22.5,"len":36},{"ppl":25.8,"len":36},{"ppl":25.8,"len":36},{"ppl":29.1,"len":36},{"ppl":29.1,"len":36},
{"ppl":16.3,"len":35},{"ppl":16.3,"len":35},{"ppl":16.3,"len":35},{"ppl":18.1,"len":35},{"ppl":19.1,"len":35},{"ppl":22.9,"len":35},{"ppl":22.9,"len":35},{"ppl":22.9,"len":35},{"ppl":27,"len":35},{"ppl":27,"len":35},{"ppl":27,"len":35},{"ppl":28.2,"len":35},{"ppl":28.2,"len":35},{"ppl":28.2,"len":35},{"ppl":31,"len":35},{"ppl":31,"len":35},{"ppl":31,"len":35},{"ppl":31.8,"len":35},{"ppl":40.1,"len":35},{"ppl":40.1,"len":35},{"ppl":40.1,"len":35},
{"ppl":17.3,"len":34},{"ppl":17.3,"len":34},{"ppl":17.3,"len":34},{"ppl":23.7,"len":34},{"ppl":27.4,"len":34},{"ppl":27.4,"len":34},
{"ppl":15,"len":33},{"ppl":15,"len":33},{"ppl":16.7,"len":33},{"ppl":16.7,"len":33},{"ppl":16.7,"len":33},{"ppl":24.1,"len":33},{"ppl":24.1,"len":33},{"ppl":25.4,"len":33},{"ppl":25.4,"len":33},{"ppl":25.4,"len":33},
{"ppl":9.45,"len":32},{"ppl":9.45,"len":32},{"ppl":9.45,"len":32},{"ppl":12.9,"len":32},{"ppl":12.9,"len":32},{"ppl":11.9,"len":31},{"ppl":11.9,"len":31},
{"ppl":17.3,"len":30},{"ppl":17.3,"len":30},{"ppl":19.5,"len":30},{"ppl":19.5,"len":30},{"ppl":19.5,"len":30}
]
},
"hconcat":[
{"width":994,"height":740,"layer":[
{"data":{"name":"left"},"mark":{"type":"circle","fill":"#ff2400","stroke":"#ff2400","fillOpacity":0.47,"strokeOpacity":0.47,"strokeWidth":1.5,"size":256,"clip":true},
"encoding":{
"x":{"field":"ppl","type":"quantitative","title":"PPL","scale":{"type":"log","domain":[4.786,27860],"nice":false},
"axis":{"values":[5,6,7,8,9,10,20,30,40,50,60,70,80,90,100,200,300,400,500,600,700,800,900,1000,2000,3000,4000,5000,6000,7000,8000,9000,10000,20000],
"labelExpr":"datum.value==10?'10¹':datum.value==100?'10²':datum.value==1000?'10³':datum.value==10000?'10⁴':''",
"tickSize":{"condition":{"test":"datum.value==10||datum.value==100||datum.value==1000||datum.value==10000","value":10},"value":6},"titlePadding":14,"labelPadding":6}},
"y":{"field":"len","type":"quantitative","title":"Seq-Length","scale":{"type":"log","domain":[26.95,62.4],"nice":false},
"axis":{"values":[30,40,50,60],"tickSize":6,"labelExpr":"datum.value==30?'3 × 10¹':datum.value==40?'4 × 10¹':datum.value==50?'5 × 10¹':'6 × 10¹'","titlePadding":10,"labelPadding":6}}}},
{"data":{"values":[{"ppl":1000}]},"mark":{"type":"rule","color":"orange","opacity":0.8,"strokeWidth":3.6},"encoding":{"x":{"field":"ppl","type":"quantitative"}}}
]},
{"width":991,"height":740,"layer":[
{"data":{"name":"right"},"mark":{"type":"circle","fill":"#ff2400","stroke":"#ff2400","fillOpacity":0.47,"strokeOpacity":0.47,"strokeWidth":1.5,"size":256,"clip":true},
"encoding":{
"x":{"field":"ppl","type":"quantitative","title":"PPL","scale":{"type":"log","domain":[6.59,20560],"nice":false},
"axis":{"values":[7,8,9,10,20,30,40,50,60,70,80,90,100,200,300,400,500,600,700,800,900,1000,2000,3000,4000,5000,6000,7000,8000,9000,10000,20000],
"labelExpr":"datum.value==10?'10¹':datum.value==100?'10²':datum.value==1000?'10³':datum.value==10000?'10⁴':''",
"tickSize":{"condition":{"test":"datum.value==10||datum.value==100||datum.value==1000||datum.value==10000","value":10},"value":6},"titlePadding":14,"labelPadding":6}},
"y":{"field":"len","type":"quantitative","title":"Seq-Length","scale":{"type":"log","domain":[27.7,164],"nice":false},
"axis":{"values":[30,40,50,60,70,80,90,100],"tickSize":{"condition":{"test":"datum.value==100","value":10},"value":6},"labelExpr":"datum.value==30?'3 × 10¹':datum.value==40?'4 × 10¹':datum.value==60?'6 × 10¹':datum.value==100?'10²':''","titlePadding":10,"labelPadding":6}}}},
{"data":{"values":[{"ppl":1000}]},"mark":{"type":"rule","color":"orange","opacity":0.8,"strokeWidth":3.6},"encoding":{"x":{"field":"ppl","type":"quantitative"}}}
]}
]
}
